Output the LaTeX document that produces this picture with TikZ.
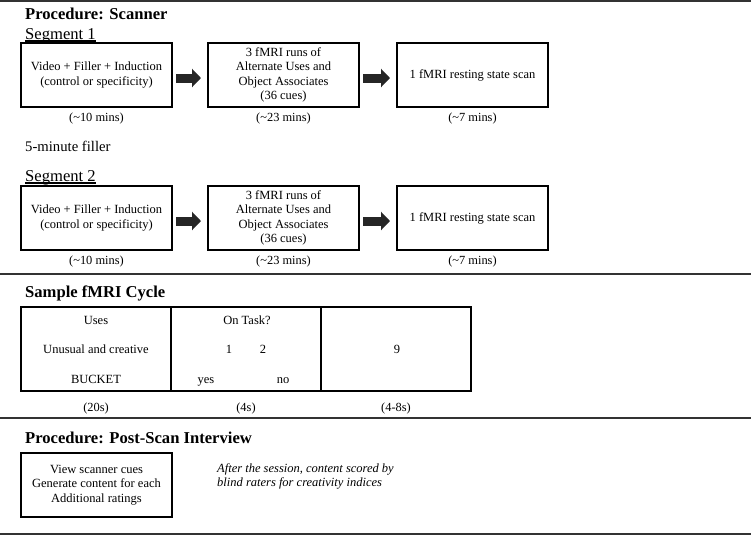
\documentclass[tikz,border=0pt]{standalone}
\usepackage{fontspec}
\setmainfont{Liberation Serif}
\usetikzlibrary{positioning,arrows.meta}

\begin{document}
\begin{tikzpicture}[x=1pt, y=-1pt,
  stepbox/.style={draw, line width=1.6pt, outer sep=0pt, minimum width=151pt, minimum height=64pt, align=center, font=\fontsize{12.5}{14.5}\selectfont},
  cyclebox/.style={draw, line width=1.6pt, outer sep=0pt, minimum width=150pt, minimum height=84pt},
  heading/.style={anchor=base west, inner sep=0pt, font=\fontsize{16.6}{18}\selectfont\bfseries},
  segment/.style={anchor=base west, inner sep=0pt, font=\fontsize{16.6}{18}\selectfont},
  underrule/.style={line width=1.2pt},
  timing/.style={inner sep=1pt, font=\fontsize{12.4}{14}\selectfont},
  celltext/.style={inner sep=0pt, text height=8.5pt, text depth=2.5pt, font=\fontsize{12.5}{14}\selectfont},
  flow/.style={line width=9pt, draw=black!85, -{Triangle[length=9pt,width=18pt]}, shorten <=4pt, shorten >=7pt},
  sectionrule/.style={line width=1.4pt, draw=black!80}]
\useasboundingbox (0,0) rectangle (751,536);

% section rules
\draw[sectionrule] (0,1) -- (751,1);
\draw[sectionrule] (0,274) -- (751,274);
\draw[sectionrule] (0,418) -- (751,418);
\draw[sectionrule] (0,534) -- (751,534);

% Scanner procedure
\node[heading] (scanhead) at (25,19.5) {Procedure: Scanner};
\node[segment] (seg1) at (25,39) {Segment 1};
\draw[underrule] ([yshift=-2pt]seg1.base west) -- ([yshift=-2pt]seg1.base east);

% Segment 1
\node[stepbox] (s1video) at (96.5,75) {Video + Filler + Induction\\(control or specificity)};
\node[stepbox, right=36pt of s1video] (s1runs) {3 fMRI runs of\\Alternate Uses and\\Object Associates\\(36 cues)};
\node[stepbox, right=38pt of s1runs] (s1rest) {1 fMRI resting state scan};
\node[timing, below=5pt of s1video] (s1t1) {(\textasciitilde10 mins)};
\node[timing, below=5pt of s1runs] (s1t2) {(\textasciitilde23 mins)};
\node[timing, below=5pt of s1rest] (s1t3) {(\textasciitilde7 mins)};

\node[segment, font=\fontsize{14.7}{16}\selectfont] (filler) at (25,151) {5-minute filler};

% Segment 2
\node[segment] (seg2) at (25,181) {Segment 2};
\draw[underrule] ([yshift=-2pt]seg2.base west) -- ([yshift=-2pt]seg2.base east);
\node[stepbox] (s2video) at (96.5,218) {Video + Filler + Induction\\(control or specificity)};
\node[stepbox, right=36pt of s2video] (s2runs) {3 fMRI runs of\\Alternate Uses and\\Object Associates\\(36 cues)};
\node[stepbox, right=38pt of s2runs] (s2rest) {1 fMRI resting state scan};
\node[timing, below=5pt of s2video] (s2t1) {(\textasciitilde10 mins)};
\node[timing, below=5pt of s2runs] (s2t2) {(\textasciitilde23 mins)};
\node[timing, below=5pt of s2rest] (s2t3) {(\textasciitilde7 mins)};

% Sample cycle
\node[heading] (cyclehead) at (25,297) {Sample fMRI Cycle};
\node[cyclebox] (cues) at (96,349) {};
\node[cyclebox, right=0pt of cues] (ontask) {};
\node[cyclebox, right=0pt of ontask] (blank) {};
\node[celltext] (uses) at (96,321) {Uses};
\node[celltext] (unusual) at (96,350) {Unusual and creative};
\node[celltext] (bucket) at (96,380) {BUCKET};
\node[celltext] (question) at (247,321) {On Task?};
\node[celltext] (one) at (229,350) {1};
\node[celltext] (two) at (263,350) {2};
\node[celltext] (yes) at (206,380) {yes};
\node[celltext] (no) at (283,380) {no};
\node[celltext] (nine) at (397,350) {9};
\node[timing, below=11pt of cues] (c1t) {(20s)};
\node[timing, below=11pt of ontask] (c2t) {(4s)};
\node[timing, below=11pt of blank] (c3t) {(4-8s)};

% Post-scan interview
\node[heading] (posthead) at (25,443) {Procedure: Post-Scan Interview};
\node[stepbox] (interview) at (96.5,485) {View scanner cues\\Generate content for each\\Additional ratings};
\node[anchor=west, align=left, inner sep=0pt, font=\fontsize{12.5}{14}\selectfont\itshape] (note) at (217,476) {After the session, content scored by\\blind raters for creativity indices};

% Flow arrows
\draw[flow] ([yshift=-3pt]s1video.east) -- ([yshift=-3pt]s1runs.west);
\draw[flow] ([yshift=-3pt]s1runs.east) -- ([yshift=-3pt]s1rest.west);
\draw[flow] ([yshift=-3pt]s2video.east) -- ([yshift=-3pt]s2runs.west);
\draw[flow] ([yshift=-3pt]s2runs.east) -- ([yshift=-3pt]s2rest.west);

\end{tikzpicture}
\end{document}
